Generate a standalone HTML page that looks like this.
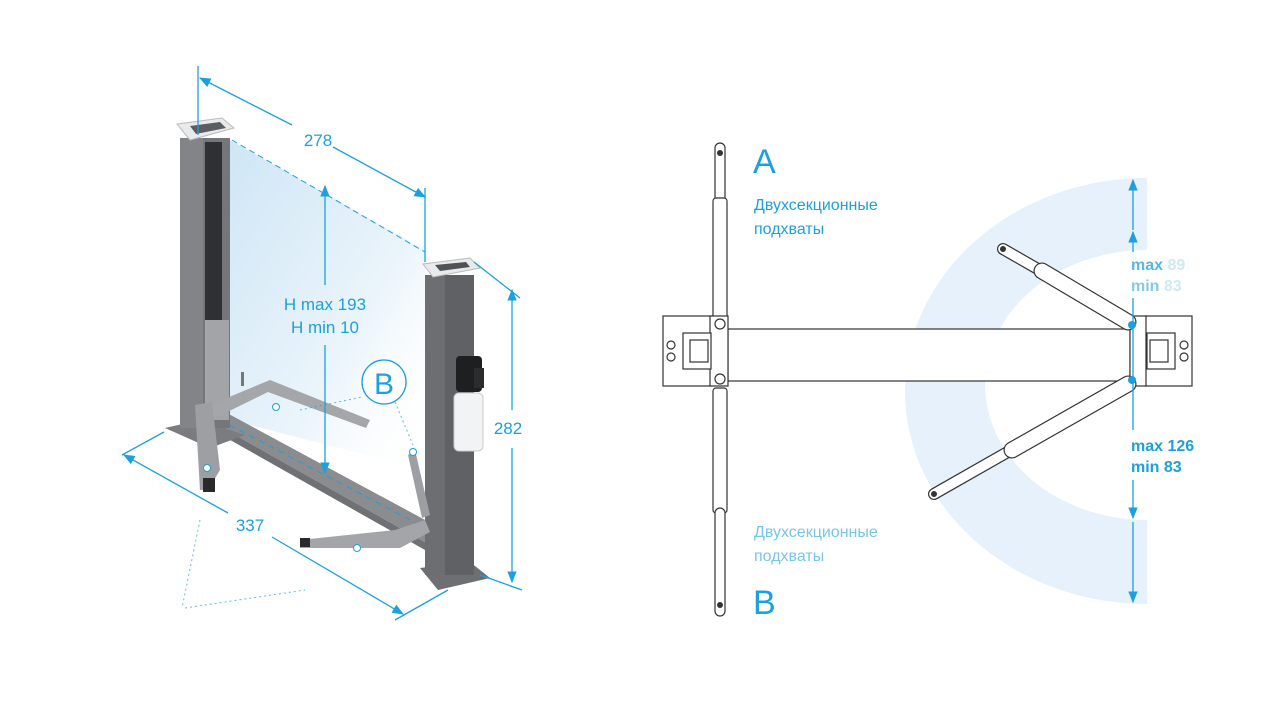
<!DOCTYPE html>
<html><head><meta charset="utf-8"><style>
html,body{margin:0;padding:0;background:#fff;}
svg{display:block;}
text{font-family:"Liberation Sans","DejaVu Sans",sans-serif;fill:#1ba0e0;}
</style></head><body>
<svg width="1280" height="719" viewBox="0 0 1280 719" xmlns="http://www.w3.org/2000/svg">
<defs>
<linearGradient id="glass" x1="0" y1="0" x2="1" y2="1">
<stop offset="0" stop-color="#cfe6f6"/><stop offset="0.6" stop-color="#eaf4fb"/><stop offset="1" stop-color="#ffffff" stop-opacity="0"/>
</linearGradient>
<marker id="ar" viewBox="0 0 10 10" refX="9" refY="5" markerWidth="9" markerHeight="9" orient="auto-start-reverse">
<path d="M0,1 L10,5 L0,9 z" fill="#1ba0e0"/></marker>
</defs>
<rect width="1280" height="719" fill="#fff"/>

<!-- ===== LEFT: 3D lift ===== -->
<polygon points="230,140 425,250 425,470 230,420" fill="url(#glass)"/>
<line x1="232" y1="140" x2="425" y2="252" stroke="#1ba0e0" stroke-width="1" stroke-dasharray="6,4"/>
<polygon points="205,418 225,412 440,528 430,545" fill="#8a8c90"/>
<polygon points="205,418 430,545 425,550 200,423" fill="#6f7175"/>
<line x1="220" y1="420" x2="420" y2="525" stroke="#1ba0e0" stroke-width="1" stroke-dasharray="6,5"/>
<polygon points="165,428 200,420 245,435 210,448" fill="#7a7c80"/>
<rect x="180" y="138" width="50" height="290" fill="#74767a"/>
<rect x="180" y="138" width="23" height="290" fill="#828488"/>
<rect x="205" y="142" width="17" height="180" fill="#2e3034"/>
<rect x="205" y="320" width="24" height="100" fill="#a2a4a8"/>
<polygon points="177,124 222,118 234,128 190,140" fill="#e9eaeb" stroke="#bbb" stroke-width="1"/>
<polygon points="190,126 220,122 226,128 196,134" fill="#5b5d60"/>
<polygon points="210,405 270,380 370,420 366,428 268,392 215,418" fill="#a4a6aa"/>
<polygon points="195,405 212,402 220,470 208,490 200,490" fill="#9d9fa3"/>
<rect x="203" y="478" width="12" height="14" fill="#2a2a2a"/>
<rect x="241" y="372" width="3" height="14" fill="#777"/>
<circle cx="276" cy="407" r="3.5" fill="#fff" stroke="#1ba0e0"/>
<circle cx="207" cy="468" r="3.5" fill="#fff" stroke="#1ba0e0"/>
<polygon points="420,568 470,562 490,578 438,590" fill="#6d6f73"/>
<rect x="425" y="275" width="49" height="300" fill="#5f6165"/>
<rect x="425" y="275" width="20" height="300" fill="#6c6e72"/>
<polygon points="423,264 470,258 480,268 433,277" fill="#e9eaeb" stroke="#bbb" stroke-width="1"/>
<polygon points="435,265 466,262 470,267 440,271" fill="#505256"/>
<rect x="456" y="356" width="26" height="36" rx="4" fill="#1e1f21"/>
<rect x="474" y="368" width="10" height="20" fill="#2b2c2e"/>
<rect x="454" y="393" width="29" height="58" rx="5" fill="#f2f3f4" stroke="#ccc"/>
<polygon points="300,540 395,530 425,520 430,532 400,548 300,548" fill="#a3a5a9"/>
<rect x="300" y="538" width="10" height="9" fill="#2a2a2a"/>
<circle cx="357" cy="548" r="3.5" fill="#fff" stroke="#1ba0e0"/>
<polygon points="408,455 415,450 430,515 422,518" fill="#9d9fa3"/>
<circle cx="413" cy="452" r="3.5" fill="#fff" stroke="#1ba0e0"/>
<g stroke="#1ba0e0" stroke-width="1" stroke-dasharray="2,3" fill="none" opacity="0.7">
<line x1="300" y1="410" x2="362" y2="397"/>
<line x1="395" y1="402" x2="413" y2="445"/>
<line x1="200" y1="520" x2="182" y2="608"/>
<line x1="185" y1="608" x2="305" y2="590"/>
</g>
<g stroke="#1ba0e0" stroke-width="1.3" fill="none">
<line x1="198" y1="66" x2="198" y2="135"/>
<line x1="425" y1="188" x2="425" y2="262"/>
<line x1="200" y1="78" x2="292" y2="125" marker-start="url(#ar)"/>
<line x1="333" y1="147" x2="425" y2="197" marker-end="url(#ar)"/>
<line x1="325" y1="186" x2="325" y2="285" marker-start="url(#ar)"/>
<line x1="325" y1="345" x2="325" y2="473" marker-end="url(#ar)"/>
<line x1="474" y1="262" x2="520" y2="298"/>
<line x1="512" y1="290" x2="512" y2="410" marker-start="url(#ar)"/>
<line x1="512" y1="448" x2="512" y2="582" marker-end="url(#ar)"/>
<line x1="480" y1="575" x2="522" y2="590"/>
<line x1="164" y1="432" x2="122" y2="455"/>
<line x1="124" y1="455" x2="228" y2="513" marker-start="url(#ar)"/>
<line x1="272" y1="537" x2="403" y2="614" marker-end="url(#ar)"/>
<line x1="395" y1="620" x2="448" y2="590"/>
</g>
<text x="318" y="146" font-size="17" text-anchor="middle">278</text>
<text x="325" y="310" font-size="17" text-anchor="middle">H max 193</text>
<text x="325" y="333" font-size="17" text-anchor="middle">H min 10</text>
<text x="508" y="434" font-size="17" text-anchor="middle">282</text>
<text x="250" y="531" font-size="17" text-anchor="middle">337</text>
<circle cx="384" cy="382" r="22" fill="#fff" stroke="#1ba0e0" stroke-width="1.3"/>
<text x="384" y="394" font-size="30" text-anchor="middle">B</text>

<!-- ===== RIGHT: top view ===== -->
<path d="M1147,178 A242,213 0 0 0 1147,604 L1147,520 A162,135 0 0 1 1147,250 Z" fill="#e6f1fb"/>
<g stroke="#333" stroke-width="1.2" fill="#fff">
<rect x="715" y="143" width="10" height="60" rx="5"/>
<rect x="713" y="198" width="14" height="135" rx="3"/>
<rect x="713" y="388" width="14" height="125" rx="3"/>
<rect x="715" y="508" width="10" height="108" rx="5"/>
<rect x="728" y="329" width="402" height="52"/>
<rect x="663" y="316" width="50" height="70"/>
<rect x="710" y="316" width="18" height="70"/>
<rect x="683" y="333" width="28" height="36"/>
<rect x="690" y="340" width="18" height="22"/>
<circle cx="720" cy="324" r="5"/><circle cx="720" cy="379" r="5"/>
<circle cx="671" cy="345" r="4"/><circle cx="671" cy="357" r="4"/>
<rect x="1145" y="316" width="47" height="70"/>
<rect x="1130" y="316" width="16" height="70"/>
<rect x="1147" y="333" width="28" height="36"/>
<rect x="1150" y="340" width="18" height="22"/>
<circle cx="1184" cy="345" r="4"/><circle cx="1184" cy="357" r="4"/>
</g>
<!-- diagonal arms -->
<g stroke-linecap="round">
<line x1="1003" y1="249" x2="1050" y2="276" stroke="#333" stroke-width="12"/>
<line x1="1003" y1="249" x2="1050" y2="276" stroke="#fff" stroke-width="9.6"/>
<line x1="1042" y1="271" x2="1128" y2="322" stroke="#333" stroke-width="17"/>
<line x1="1042" y1="271" x2="1128" y2="322" stroke="#fff" stroke-width="14.6"/>
<line x1="934" y1="494" x2="1020" y2="445" stroke="#333" stroke-width="12"/>
<line x1="934" y1="494" x2="1020" y2="445" stroke="#fff" stroke-width="9.6"/>
<line x1="1012" y1="450" x2="1128" y2="384" stroke="#333" stroke-width="17"/>
<line x1="1012" y1="450" x2="1128" y2="384" stroke="#fff" stroke-width="14.6"/>
</g>
<circle cx="1132" cy="325" r="4" fill="#1ba0e0"/>
<circle cx="1132" cy="380" r="4" fill="#1ba0e0"/>
<circle cx="720" cy="153" r="3" fill="#333"/><circle cx="720" cy="605" r="3" fill="#333"/>
<circle cx="1003" cy="249" r="3" fill="#333"/><circle cx="934" cy="494" r="3" fill="#333"/>
<g stroke="#1ba0e0" stroke-width="1.3">
<line x1="1133" y1="180" x2="1133" y2="230" marker-start="url(#ar)"/>
<line x1="1133" y1="232" x2="1133" y2="252" marker-start="url(#ar)"/>
<line x1="1133" y1="298" x2="1133" y2="430"/>
<line x1="1133" y1="480" x2="1133" y2="518" marker-end="url(#ar)"/>
<line x1="1133" y1="522" x2="1133" y2="602" marker-end="url(#ar)"/>
</g>
<text x="1131" y="270" font-size="16" font-weight="bold" opacity="0.75">max <tspan opacity="0.3">89</tspan></text>
<text x="1131" y="291" font-size="16" font-weight="bold" opacity="0.55">min <tspan opacity="0.4">83</tspan></text>
<text x="1131" y="451" font-size="16" font-weight="bold">max 126</text>
<text x="1131" y="472" font-size="16" font-weight="bold">min 83</text>
<text x="753" y="173" font-size="34">A</text>
<text x="753" y="614" font-size="34">B</text>
<text x="754" y="210" font-size="16">Двухсекционные</text>
<text x="754" y="234" font-size="16">подхваты</text>
<text x="754" y="537" font-size="16" opacity="0.6">Двухсекционные</text>
<text x="754" y="561" font-size="16" opacity="0.6">подхваты</text>
</svg>
</body></html>
